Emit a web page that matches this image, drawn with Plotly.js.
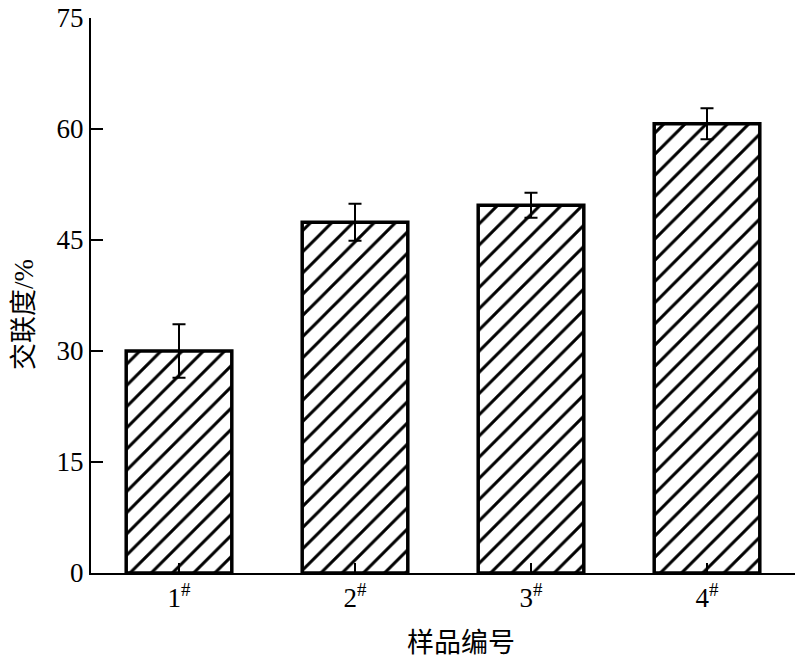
<!DOCTYPE html>
<html>
<head>
<meta charset="utf-8">
<script src="https://cdn.plot.ly/plotly-3.0.1.min.js"></script>
<style>html,body{margin:0;padding:0;background:#fff;}#chart{width:800px;height:661px;}</style>
</head>
<body>
<div id="chart"></div>
<script>
const categories = ['1<sup>#</sup>', '2<sup>#</sup>', '3<sup>#</sup>', '4<sup>#</sup>'];
const crosslinkValues = [30.0, 47.4, 49.7, 60.7];
const crosslinkErrors = [3.6, 2.5, 1.7, 2.1];
const yTickValues = [0, 15, 30, 45, 60, 75];
const xTitle = '样品编号';
const yTitle = '交联度<span style="font-family:Liberation Serif">/%</span>';

const fontFamily = '"Liberation Serif", "Times New Roman", "Noto Sans CJK SC", serif';
const cjkFamily = '"Noto Sans CJK SC", sans-serif';

const trace = {
  type: 'bar',
  x: categories,
  y: crosslinkValues,
  width: 0.6,
  marker: {
    color: '#ffffff',
    line: {color: '#000000', width: 3.5},
    pattern: {shape: '/', fgcolor: '#000000', bgcolor: '#ffffff', size: 15, solidity: 0.2, fillmode: 'replace'}
  },
  error_y: {type: 'data', array: crosslinkErrors, visible: true, color: '#000000', thickness: 2, width: 6.5},
  hoverinfo: 'skip'
};

const layout = {
  width: 800, height: 661,
  margin: {l: 91, r: 5, t: 18, b: 88},
  paper_bgcolor: '#ffffff', plot_bgcolor: '#ffffff',
  showlegend: false,
  font: {family: fontFamily, color: '#000000', size: 26},
  xaxis: {
    type: 'category',
    range: [-0.5, 3.5],
    showline: true, linecolor: '#000000', linewidth: 2,
    ticks: 'inside', ticklen: 10, tickwidth: 1.5, tickcolor: '#000000',
    showgrid: false, zeroline: false,
    tickfont: {family: fontFamily, size: 27, color: '#000000'}
  },
  yaxis: {
    range: [0, 75],
    tickvals: yTickValues,
    ticktext: yTickValues.map(String),
    showline: true, linecolor: '#000000', linewidth: 2,
    ticks: 'inside', ticklen: 12, tickwidth: 2, tickcolor: '#000000',
    showgrid: false, zeroline: false,
    tickfont: {family: fontFamily, size: 27, color: '#000000'}
  },
  annotations: [
    {text: xTitle, xref: 'paper', yref: 'paper', x: 0.526, y: -0.121, xanchor: 'center', yanchor: 'middle',
     showarrow: false, font: {family: cjkFamily, size: 27, color: '#000000'}},
    {text: yTitle, xref: 'paper', yref: 'paper', x: -0.098, y: 0.465, xanchor: 'center', yanchor: 'middle',
     textangle: -90, showarrow: false, font: {family: cjkFamily, size: 27, color: '#000000'}}
  ],
  bargap: 0.4
};

Plotly.newPlot('chart', [trace], layout, {displayModeBar: false, staticPlot: true});
</script>
</body>
</html>
